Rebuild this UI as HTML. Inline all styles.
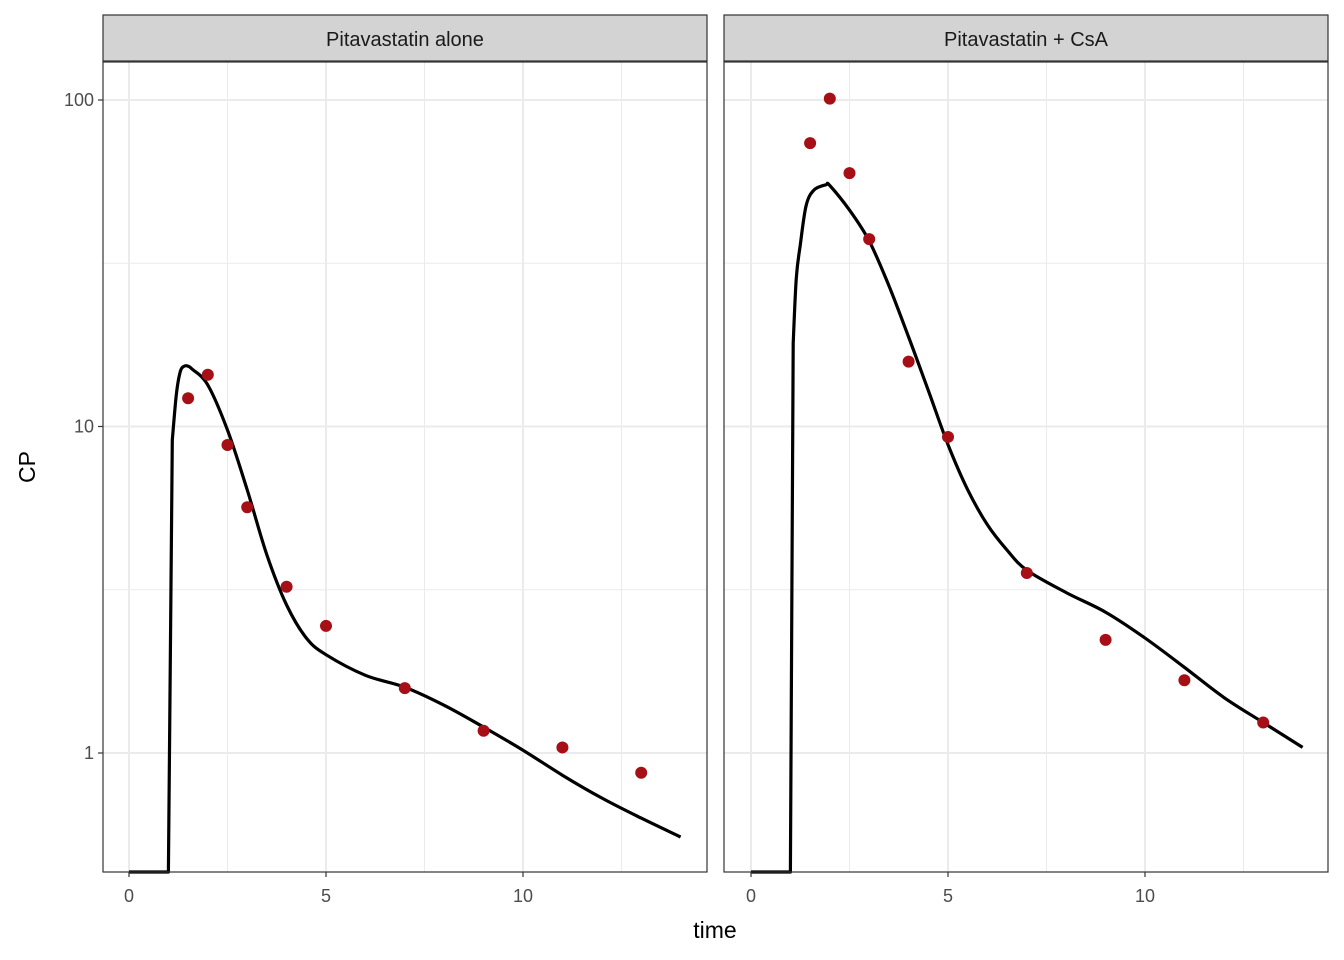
<!DOCTYPE html>
<html><head><meta charset="utf-8"><style>
body{margin:0;background:#fff;}
svg{display:block;font-family:"Liberation Sans",Arial,sans-serif;}
</style></head><body>
<svg id="chart" width="1344" height="960"></svg>
<script>
const panels = ["Pitavastatin alone","Pitavastatin + CsA"];
const obsTime = [1.5,2,2.5,3,4,5,7,9,11,13];
const obsAlone = [12.2,14.4,8.78,5.66,3.23,2.45,1.58,1.17,1.04,0.87];
const obsCsA = [73.8,101,59.7,37.5,15.8,9.29,3.56,2.22,1.67,1.24];
const fitTimeAlone = [0,0.99,1.0,1.1,1.2,1.3,1.4,1.5,1.6,2,2.5,3,3.5,4,4.5,5,6,7,8,9,10,11,12,13,14];
const fitAlone = [0,0,0,9.1,12.5,14.7,15.3,15.3,15.0,13.4,9.75,6.4,4.04,2.84,2.25,2.0,1.73,1.59,1.40,1.20,1.02,0.855,0.728,0.632,0.553];
const fitTimeCsA = [0,0.99,1.0,1.07,1.15,1.25,1.4,1.6,1.9,2,2.5,3,3.5,4,4.5,5,5.5,6,6.5,7,8,9,10,11,12,13,14];
const fitCsA = [0,0,0,18.0,28.5,36,47.6,53,55,54.7,46,37,27,18.8,12.9,8.8,6.4,5.0,4.18,3.63,3.1,2.7,2.25,1.83,1.48,1.24,1.04];
const xTicks = [0,5,10];
const yTicks = [1,10,100];
const yTickLabels = ["1","10","100"];

const NS="http://www.w3.org/2000/svg";
const svgEl=document.getElementById('chart');
function mk(tag,attrs,parent){const e=document.createElementNS(NS,tag);for(const k in attrs)e.setAttribute(k,attrs[k]);(parent||svgEl).appendChild(e);return e;}
const panelX=[103,724], panelW=604, plotTop=62, plotBottom=872;
const x0s=[129,751], pxPerUnit=39.4;
function yScale(v){ if(v<=0) return plotBottom; return Math.min(plotBottom, 753-326.5*Math.log10(v)); }

function smoothPath(pts){
  // first 3 points straight (flat + step), then Catmull-Rom
  let d='M'+pts[0][0].toFixed(1)+','+pts[0][1].toFixed(1);
  for(let k=1;k<pts.length;k++){
    if(k<=3){ d+='L'+pts[k][0].toFixed(1)+','+pts[k][1].toFixed(1); continue; }
    const p0=pts[k-2<3?k-1:k-2], p1=pts[k-1], p2=pts[k], p3=pts[Math.min(k+1,pts.length-1)];
    const c1=[p1[0]+(p2[0]-p0[0])/6, p1[1]+(p2[1]-p0[1])/6];
    const c2=[p2[0]-(p3[0]-p1[0])/6, p2[1]-(p3[1]-p1[1])/6];
    d+='C'+c1[0].toFixed(1)+','+c1[1].toFixed(1)+' '+c2[0].toFixed(1)+','+c2[1].toFixed(1)+' '+p2[0].toFixed(1)+','+p2[1].toFixed(1);
  }
  return d;
}

const obsSets=[obsAlone,obsCsA], fitT=[fitTimeAlone,fitTimeCsA], fitV=[fitAlone,fitCsA];
panels.forEach((facetName,i)=>{
  const px=panelX[i];
  const xS=t=>x0s[i]+pxPerUnit*t;
  const g=mk('g',{});
  
  
  mk('rect',{x:px,y:plotTop,width:panelW,height:plotBottom-plotTop,fill:'#fff'},g);
  [2.5,7.5,12.5].forEach(t=>mk('line',{x1:xS(t),x2:xS(t),y1:plotTop,y2:plotBottom,stroke:'#ebebeb','stroke-width':1},g));
  [Math.sqrt(10),Math.sqrt(1000)].forEach(v=>mk('line',{x1:px,x2:px+panelW,y1:yScale(v),y2:yScale(v),stroke:'#ebebeb','stroke-width':1},g));
  xTicks.forEach(t=>mk('line',{x1:xS(t),x2:xS(t),y1:plotTop,y2:plotBottom,stroke:'#ebebeb','stroke-width':2},g));
  yTicks.forEach(v=>mk('line',{x1:px,x2:px+panelW,y1:yScale(v),y2:yScale(v),stroke:'#ebebeb','stroke-width':2},g));
  const pts=fitT[i].map((t,k)=>[xS(t),yScale(fitV[i][k])]);
  const ln=mk('path',{d:smoothPath(pts),fill:'none',stroke:'#000','stroke-width':3.2,'stroke-linejoin':'round'},g);
  
  
  obsTime.forEach((t,k)=>{
    const c=mk('circle',{cx:xS(t),cy:yScale(obsSets[i][k]),r:6,fill:'#a50f15'},g);
    
    
  });
  mk('rect',{x:px,y:plotTop,width:panelW,height:plotBottom-plotTop,fill:'none',stroke:'#333','stroke-width':1.2},g);
  const s=mk('rect',{x:px,y:15,width:panelW,height:46,fill:'#d3d3d3',stroke:'#333','stroke-width':1.2},g);
  
  
  const st=mk('text',{x:px+panelW/2,y:46,'text-anchor':'middle','font-size':20,fill:'#1a1a1a'},g);
  st.textContent=facetName;
  
  
  xTicks.forEach(t=>{
    mk('line',{x1:xS(t),x2:xS(t),y1:plotBottom,y2:plotBottom+5,stroke:'#333','stroke-width':1.2},g);
    const tx=mk('text',{x:xS(t),y:902,'text-anchor':'middle','font-size':18,fill:'#4d4d4d'},g);
    tx.textContent=t;
    
    
  });
});
yTicks.forEach((v,k)=>{
  mk('line',{x1:98,x2:103,y1:yScale(v),y2:yScale(v),stroke:'#333','stroke-width':1.2});
  const t=mk('text',{x:94,y:yScale(v)+6,'text-anchor':'end','font-size':18,fill:'#4d4d4d'});
  t.textContent=yTickLabels[k];
  
  
});
const xt=mk('text',{x:715,y:938,'text-anchor':'middle','font-size':23,fill:'#000'});
xt.textContent='time';


const yt=mk('text',{x:0,y:0,'text-anchor':'middle','font-size':23,fill:'#000',transform:'translate(35,467) rotate(-90)'});
yt.textContent='CP';


</script>
</body></html>
